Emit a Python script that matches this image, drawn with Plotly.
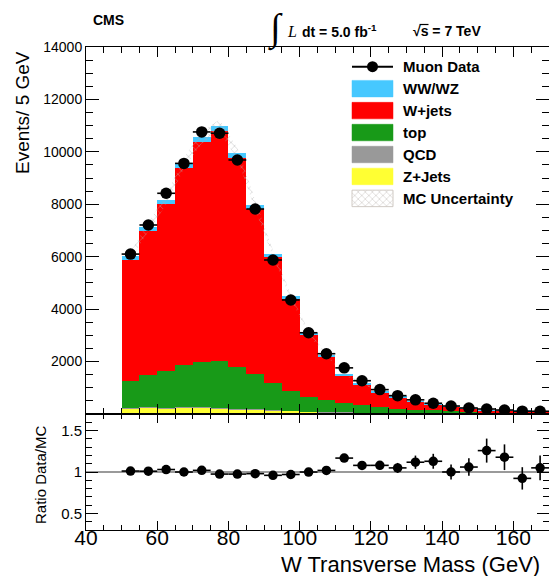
import numpy as np
import plotly.graph_objects as go

# ---------------------------------------------------------------- data
# W transverse mass, 5 GeV bins from 50 to 170 GeV
bin_centers = [52.5, 57.5, 62.5, 67.5, 72.5, 77.5, 82.5, 87.5, 92.5, 97.5,
               102.5, 107.5, 112.5, 117.5, 122.5, 127.5, 132.5, 137.5,
               142.5, 147.5, 152.5, 157.5, 162.5, 167.5]

muon_data = [6100, 7210, 8420, 9560, 10760, 10710, 9690, 7820, 5875, 4350,
             3100, 2300, 1760, 1270, 930, 700, 540, 410,
             305, 230, 190, 152, 108, 105]

# simulated backgrounds (stacked bottom to top: Z+Jets, QCD, top, W+jets, WW/WZ)
z_jets = [215, 250, 220, 245, 250, 225, 190, 165, 140, 115,
          90, 70, 55, 45, 35, 28, 22, 18, 14, 11, 9, 7, 6, 5]
qcd = [30, 25, 20, 18, 15, 12, 10, 8, 6, 5,
       4, 3, 3, 2, 2, 2, 1, 1, 1, 1, 1, 1, 1, 1]
top = [1025, 1200, 1400, 1618, 1707, 1773, 1581, 1341, 1024, 745,
       567, 474, 349, 284, 217, 161, 135, 115, 95, 78, 62, 52, 44, 36]
w_jets = [4620, 5515, 6370, 7500, 8390, 8775, 7970, 6295, 4810, 3510,
          2355, 1645, 1050, 805, 575, 450, 305, 213, 182, 117, 71, 62, 60, 53]
ww_wz = [140, 150, 165, 180, 190, 200, 190, 170, 140, 110,
         85, 65, 50, 40, 32, 26, 20, 16, 13, 10, 8, 7, 6, 5]

# absolute MC uncertainty per bin
mc_unc = [150, 170, 190, 210, 230, 240, 220, 180, 140, 100,
          75, 55, 40, 32, 25, 20, 15, 12, 10, 8, 7, 6, 5, 5]

# uncertainty on Data/MC ratio
ratio_err = [0.02, 0.02, 0.02, 0.02, 0.02, 0.02, 0.02, 0.02, 0.02, 0.02,
             0.025, 0.03, 0.04, 0.045, 0.05, 0.06, 0.08, 0.09,
             0.09, 0.105, 0.145, 0.155, 0.135, 0.15]

x_ticks = [40, 60, 80, 100, 120, 140, 160]
y_ticks = [2000, 4000, 6000, 8000, 10000, 12000, 14000]
ratio_ticks = [0.5, 1.0, 1.5]
ratio_tick_text = ["0.5", "1", "1.5"]

legend_entries = ["Muon Data", "WW/WZ", "W+jets", "top", "QCD", "Z+Jets", "MC Uncertainty"]

colors = {
    "WW/WZ": "#46c8ff",
    "W+jets": "#ff0000",
    "top": "#189a18",
    "QCD": "#999999",
    "Z+Jets": "#ffff33",
}

# ---------------------------------------------------------------- geometry (pixels)
FIG_W, FIG_H = 549, 576
M_L, M_R, M_T, M_B = 86, 0, 47, 46
PLOT_W = FIG_W - M_L - M_R
PLOT_H = FIG_H - M_T - M_B
SPLIT_PX = 414                      # boundary between main and ratio pads
split = (FIG_H - M_B - SPLIT_PX) / PLOT_H

FONT = "Liberation Sans"
SERIF = "Liberation Serif"


def paper_x(px):
    return (px - M_L) / PLOT_W


def paper_y(py):
    return (FIG_H - M_B - py) / PLOT_H


bc = np.array(bin_centers)
data = np.array(muon_data, dtype=float)
mc_total = (np.array(z_jets) + np.array(qcd) + np.array(top)
            + np.array(w_jets) + np.array(ww_wz)).astype(float)
unc = np.array(mc_unc, dtype=float)
ratio = data / mc_total

fig = go.Figure()

# stacked backgrounds
for name, vals in [("Z+Jets", z_jets), ("QCD", qcd), ("top", top),
                   ("W+jets", w_jets), ("WW/WZ", ww_wz)]:
    fig.add_trace(go.Bar(
        x=bin_centers, y=vals, width=5, name=name,
        marker=dict(color=colors[name], line=dict(width=0)),
        showlegend=False, xaxis="x", yaxis="y"))

# hatched MC uncertainty band through the bin centres
fig.add_trace(go.Scatter(
    x=list(bc) + list(bc[::-1]),
    y=list(mc_total + unc) + list((mc_total - unc)[::-1]),
    mode="lines", fill="toself", fillcolor="rgba(0,0,0,0)",
    fillpattern=dict(shape="x", fgcolor="#b0b0b0", bgcolor="rgba(0,0,0,0)",
                     size=5, solidity=0.3),
    line=dict(width=0), showlegend=False, hoverinfo="skip",
    xaxis="x", yaxis="y"))

# data points
fig.add_trace(go.Scatter(
    x=bin_centers, y=muon_data, mode="markers",
    marker=dict(color="black", size=11.5),
    error_x=dict(type="constant", value=2.5, color="black", thickness=1.6, width=0),
    error_y=dict(type="data", array=np.sqrt(data), color="black", thickness=1.6, width=0),
    showlegend=False, xaxis="x", yaxis="y"))

# ratio pad
fig.add_shape(type="line", xref="x2", yref="y2", x0=40, x1=170, y0=1, y1=1,
              line=dict(color="#9a9a9a", width=2), layer="below")
fig.add_trace(go.Scatter(
    x=bin_centers, y=ratio, mode="markers",
    marker=dict(color="black", size=9.5),
    error_x=dict(type="constant", value=2.5, color="black", thickness=1.6, width=0),
    error_y=dict(type="data", array=ratio_err, color="black", thickness=1.6, width=0),
    showlegend=False, xaxis="x2", yaxis="y2"))

# ---------------------------------------------------------------- legend (pixel space overlay)
LEG_X0, LEG_X1 = 352, 393
LEG_TEXT_X = 401
LEG_ROW0, LEG_STEP = 66.7, 21.95
BOX_H = 16.5
for i, name in enumerate(legend_entries):
    yc = LEG_ROW0 + i * LEG_STEP
    if name == "Muon Data":
        fig.add_trace(go.Scatter(
            x=[LEG_X0, LEG_X1], y=[yc, yc], mode="lines",
            line=dict(color="black", width=2), showlegend=False,
            hoverinfo="skip", xaxis="x3", yaxis="y3"))
        fig.add_trace(go.Scatter(
            x=[(LEG_X0 + LEG_X1) / 2], y=[yc], mode="markers",
            marker=dict(color="black", size=11), showlegend=False,
            hoverinfo="skip", xaxis="x3", yaxis="y3"))
    else:
        xs = [LEG_X0, LEG_X1, LEG_X1, LEG_X0, LEG_X0]
        ys = [yc - BOX_H / 2, yc - BOX_H / 2, yc + BOX_H / 2, yc + BOX_H / 2, yc - BOX_H / 2]
        if name == "MC Uncertainty":
            fig.add_trace(go.Scatter(
                x=xs, y=ys, mode="lines", fill="toself", fillcolor="white",
                fillpattern=dict(shape="x", fgcolor="#b8b2ac", bgcolor="white",
                                 size=5, solidity=0.3),
                line=dict(color="#d0cac4", width=1), showlegend=False,
                hoverinfo="skip", xaxis="x3", yaxis="y3"))
        else:
            fig.add_trace(go.Scatter(
                x=xs, y=ys, mode="lines", fill="toself", fillcolor=colors[name],
                line=dict(color=colors[name], width=0.5), showlegend=False,
                hoverinfo="skip", xaxis="x3", yaxis="y3"))
    fig.add_annotation(
        x=LEG_TEXT_X, y=yc, xref="x3", yref="y3", text=name, showarrow=False,
        xanchor="left", yanchor="middle",
        font=dict(family=FONT, size=15, color="black", weight="bold"))

# ---------------------------------------------------------------- header & titles
def label(px, py, text, size, xanchor="center", family=FONT, weight="normal",
          style="normal", angle=0):
    fig.add_annotation(
        x=paper_x(px), y=paper_y(py), xref="paper", yref="paper", text=text,
        showarrow=False, xanchor=xanchor, yanchor="middle", textangle=angle,
        font=dict(family=family, size=size, color="black", weight=weight, style=style))


label(108, 19.5, "CMS", 14, weight="bold")
label(275, 29, "∫", 38, family=SERIF)
label(292, 31.5, "L", 16, family=SERIF, style="italic")
label(300, 31.5, "dt = 5.0 fb<sup>-1</sup>", 14, xanchor="left", weight="bold")
label(411, 31.5, "√s = 7 TeV", 14, xanchor="left", weight="bold")
# bar over the "s" of the square root
fig.add_shape(type="line", xref="paper", yref="paper",
              x0=paper_x(419.5), x1=paper_x(428.5), y0=paper_y(24.5), y1=paper_y(24.5),
              line=dict(color="black", width=1.2))
label(22, 113, "Events/ 5 GeV", 19, angle=-90)
label(40, 475, "Ratio Data/MC", 15, angle=-90)
label(542, 564, "W Transverse Mass (GeV)", 22, xanchor="right")

# ---------------------------------------------------------------- axes
frame = dict(showline=True, linecolor="black", linewidth=1, mirror="allticks",
             ticks="inside", tickcolor="black", showgrid=False, zeroline=False)

fig.update_layout(
    width=FIG_W, height=FIG_H,
    margin=dict(l=M_L, r=M_R, t=M_T, b=M_B),
    paper_bgcolor="white", plot_bgcolor="white",
    barmode="stack", bargap=0,
    font=dict(family=FONT, color="black"),
    xaxis=dict(domain=[0, 1], anchor="y", range=[40, 170], tickvals=x_ticks,
               showticklabels=False, ticklen=10, tickwidth=1,
               minor=dict(ticks="inside", ticklen=6, dtick=5, tick0=40,
                          tickcolor="black"),
               **frame),
    yaxis=dict(domain=[split, 1], anchor="x", range=[0, 14000],
               tickvals=y_ticks, ticktext=[str(v) for v in y_ticks],
               ticklen=13, tickwidth=1, tickfont=dict(size=14),
               minor=dict(ticks="inside", ticklen=7, dtick=500, tick0=0,
                          tickcolor="black"),
               **frame),
    xaxis2=dict(domain=[0, 1], anchor="y2", range=[40, 170], tickvals=x_ticks,
                ticktext=[str(v) for v in x_ticks],
                ticklen=9, tickwidth=1, tickfont=dict(size=21),
                ticklabelstandoff=-11,
                minor=dict(ticks="inside", ticklen=5, dtick=5, tick0=40,
                           tickcolor="black"),
                **frame),
    yaxis2=dict(domain=[0, split], anchor="x2", range=[0.3, 1.7],
                tickvals=ratio_ticks, ticktext=ratio_tick_text,
                ticklen=12, tickwidth=1, tickfont=dict(size=15),
                minor=dict(ticks="inside", ticklen=6, dtick=0.1, tick0=0.3,
                           tickcolor="black"),
                **frame),
    xaxis3=dict(overlaying="x", anchor="y3", range=[M_L, FIG_W - M_R], visible=False),
    yaxis3=dict(overlaying="y", anchor="x3", range=[SPLIT_PX, M_T], visible=False),
)

fig.write_html("out.html")
